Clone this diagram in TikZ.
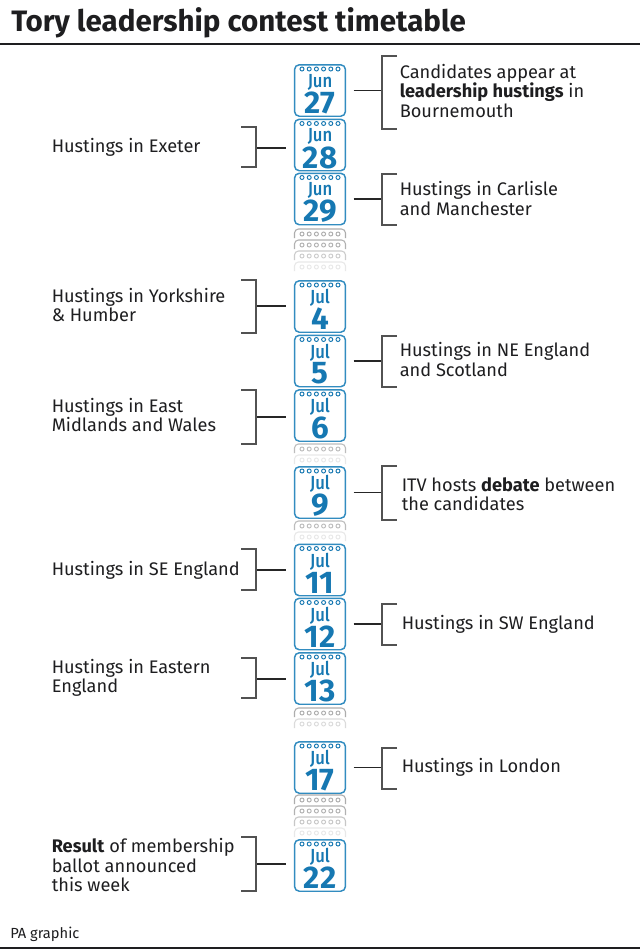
\documentclass[tikz,border=0pt]{standalone}
\usepackage{fontspec}
\setmainfont{Fira Sans}
\newfontfamily\calfont[FakeStretch=0.88]{Fira Sans Medium}
\usepackage{xcolor}
\definecolor{calblue}{RGB}{22,120,178}
\definecolor{calline}{RGB}{50,140,192}
\definecolor{inkdark}{RGB}{30,30,32}
\tikzset{
  calbox/.style={draw=calline,fill=white,line width=1.1pt,rounded corners=3.6pt,minimum width=38.2pt,minimum height=38.6pt,inner sep=0pt},
  calmonth/.style={text=calblue,inner sep=0pt,font=\fontsize{14.2}{15}\calfont},
  calnum/.style={text=calblue,inner sep=0pt,font=\fontsize{23.5}{24}\selectfont\bfseries},
  ring/.style={draw=calblue,line width=0.7pt,fill=white},
  bracketline/.style={draw=black!68,line width=1pt},
  stubline/.style={draw=black!85,line width=0.8pt},
  label/.style={anchor=west,align=left,inner sep=0pt,text=inkdark,font=\fontsize{13.65}{14.5}\selectfont},
}
% one calendar leaf: name, centre y, month, day
\newcommand{\calday}[4]{
  \node[calbox] (#1) at (320,#2) {};
  \foreach \r in {0,...,5}
    \draw[ring] (302+7.2*\r,#2-21.5) circle (2);
  \node[calmonth] (#1m) at (320,#2-8.5) {#3};
  \node[calnum] (#1n) at (320,#2+12.5) {#4};
}
% faded leaf between dates: top y, colour
\newcommand{\ghostcal}[2]{
  \fill[white,rounded corners=3pt] (294.5,#1+11) -- (294.5,#1) -- (345.5,#1) -- (345.5,#1+11) -- cycle;
  \draw[#2,line width=0.8pt,rounded corners=3pt] (294.5,#1+9) -- (294.5,#1) -- (345.5,#1) -- (345.5,#1+9);
  \foreach \r in {0,...,5}
    \draw[#2,line width=0.7pt] (302+7.2*\r,#1+5) circle (2);
}
% bracket on the right of a calendar: name, top y, bottom y
\newcommand{\rightbrace}[3]{
  \coordinate (#1rt) at (397,#2);
  \coordinate (#1rb) at (397,#3);
  \coordinate (#1rm) at (382,#2);
  \draw[stubline] ([xshift=5.6pt]#1.east) -- ([xshift=27.4pt]#1.east);
  \draw[bracketline] (#1rt) -- (#1rm) -- (#1rm |- #1rb) -- (#1rb);
}
% bracket on the left: name, top y, bottom y, stub y
\newcommand{\leftbrace}[4]{
  \coordinate (#1lt) at (241,#2);
  \coordinate (#1lb) at (241,#3);
  \coordinate (#1lm) at (256,#2);
  \coordinate (#1ls) at (256,#4);
  \coordinate (#1le) at (286,#4);
  \draw[stubline] (#1ls) -- (#1le);
  \draw[bracketline] (#1lt) -- (#1lm) -- (#1lm |- #1lb) -- (#1lb);
}
\begin{document}
\begin{tikzpicture}[x=0.75pt,y=-0.75pt]
\useasboundingbox[fill=white] (0,0) rectangle (640,950);
% title and rules
\node[anchor=west,inner sep=0pt,text=inkdark,font=\fontsize{22.15}{24}\selectfont\bfseries] (title) at (11,23) {Tory leadership contest timetable};
\coordinate (ruleal) at (0,44);
\coordinate (ruleae) at (640,44);
\coordinate (rulebl) at (0,948);
\coordinate (rulebe) at (640,948);
\draw[inkdark,line width=1.6pt] (ruleal) -- (ruleae);
\draw[inkdark,line width=1.6pt] (rulebl) -- (rulebe);
\node[anchor=west,inner sep=0pt,text=inkdark,font=\fontsize{11}{12}\selectfont] (credit) at (10,934) {PA graphic};
% faded leaves
\ghostcal{229}{black!32}
\ghostcal{240}{black!30}
\ghostcal{251}{black!20}
\ghostcal{262}{black!9}
\ghostcal{444}{black!26}
\ghostcal{455}{black!9}
\ghostcal{521}{black!26}
\ghostcal{532}{black!9}
\ghostcal{708}{black!32}
\ghostcal{719}{black!14}
\ghostcal{795}{black!32}
\ghostcal{806}{black!30}
\ghostcal{817}{black!22}
\ghostcal{828}{black!9}
% calendars
\calday{jun27}{90.5}{Jun}{27}
\calday{jun28}{145}{Jun}{28}
\calday{jun29}{199}{Jun}{29}
\calday{jul4}{306.5}{Jul}{4}
\calday{jul5}{361}{Jul}{5}
\calday{jul6}{415.5}{Jul}{6}
\calday{jul9}{492.5}{Jul}{9}
\calday{jul11}{570}{Jul}{11}
\calday{jul12}{624}{Jul}{12}
\calday{jul13}{678.5}{Jul}{13}
\calday{jul17}{767.5}{Jul}{17}
\calday{jul22}{865.5}{Jul}{22}
% brackets
\rightbrace{jun27}{56}{129}
\leftbrace{jun28}{127}{167}{148}
\rightbrace{jun29}{174}{225}
\leftbrace{jul4}{280}{333}{306}
\rightbrace{jul5}{336}{387}
\leftbrace{jul6}{390}{444}{417}
\rightbrace{jul9}{466}{520}
\leftbrace{jul11}{549}{590}{570}
\rightbrace{jul12}{604}{645}
\leftbrace{jul13}{658}{698}{679}
\rightbrace{jul17}{748}{789}
\leftbrace{jul22}{837}{891}{864}
% labels
\node[label] (txt27) at (399.5,91) {Candidates appear at\\\textbf{leadership hustings} in\\Bournemouth};
\node[label] (txt28) at (51.5,147) {Hustings in Exeter};
\node[label] (txt29) at (399.5,198.5) {Hustings in Carlisle\\and Manchester};
\node[label] (txt4) at (51.5,305) {Hustings in Yorkshire\\\& Humber};
\node[label] (txt5) at (399.5,359.5) {Hustings in NE England\\and Scotland};
\node[label] (txt6) at (51.5,415) {Hustings in East\\Midlands and Wales};
\node[label] (txt9) at (401.5,494) {ITV hosts \textbf{debate} between\\the candidates};
\node[label] (txt11) at (51.5,570) {Hustings in SE England};
\node[label] (txt12) at (401.5,624) {Hustings in SW England};
\node[label] (txt13) at (51.5,677.5) {Hustings in Eastern\\England};
\node[label] (txt17) at (401.5,767) {Hustings in London};
\node[label] (txt22) at (51.5,865) {\textbf{Result} of membership\\ballot announced\\this week};
\end{tikzpicture}
\end{document}
